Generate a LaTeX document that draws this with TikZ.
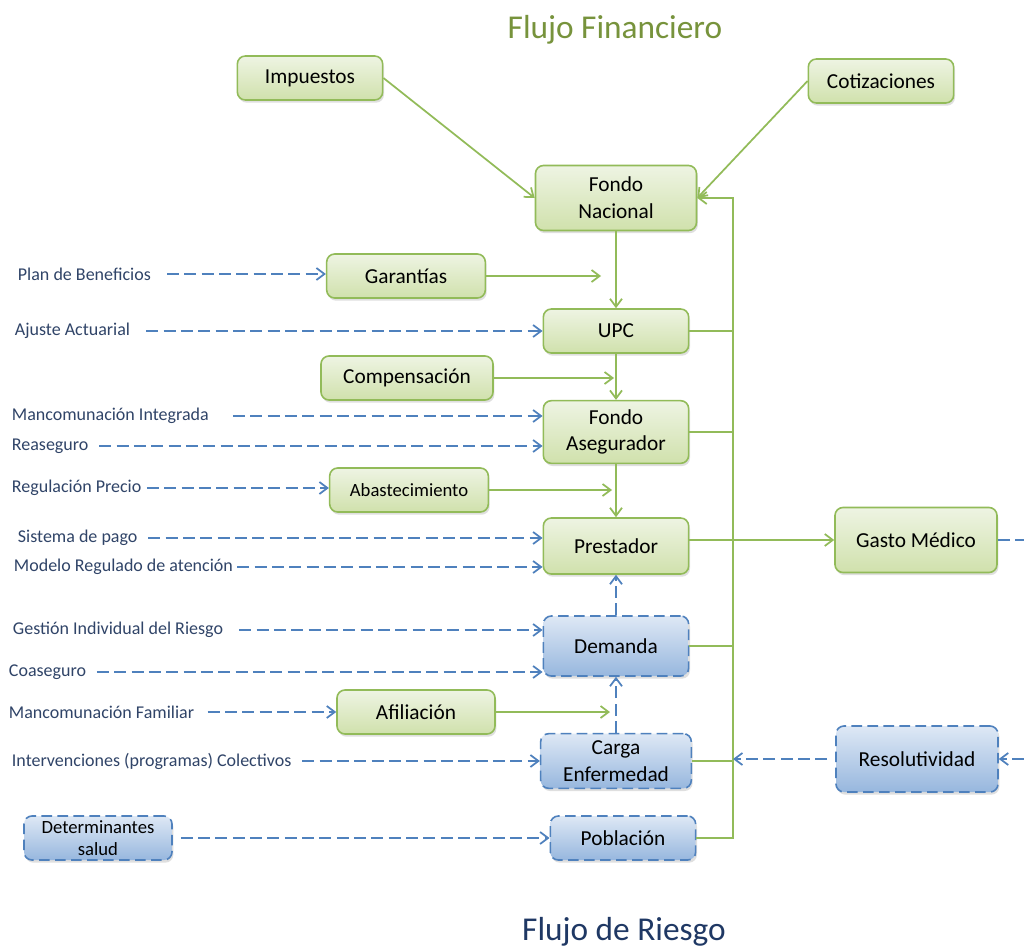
\documentclass[tikz,border=0pt]{standalone}
\usepackage{fontspec}
\setmainfont{Carlito}
\usetikzlibrary{arrows.meta,positioning,shadows}
\definecolor{finGreen}{RGB}{146,187,89}
\definecolor{finTop}{RGB}{238,244,227}
\definecolor{finBottom}{RGB}{208,225,172}
\definecolor{riskBlue}{RGB}{79,129,189}
\definecolor{riskTop}{RGB}{222,232,245}
\definecolor{riskBottom}{RGB}{151,183,222}
\definecolor{labelText}{RGB}{48,68,104}
\definecolor{titleGreen}{RGB}{119,147,60}
\definecolor{titleBlue}{RGB}{31,56,100}

\begin{document}
\begin{tikzpicture}[x=0.75pt,y=-0.75pt]
  \tikzset {
    box/.style={
      rectangle,
      rounded corners=6pt,
      draw=finGreen,
      line width=1.2pt,
      top color=finTop,
      bottom color=finBottom,
      minimum width=109pt,
      minimum height=33pt,
      align=center,
      font=\fontsize{16}{20}\selectfont,
      drop shadow={opacity=0.25, shadow xshift=1pt, shadow yshift=-2pt}
    },
    riskbox/.style={
      box,
      draw=riskBlue,
      dash pattern=on 8pt off 4pt,
      top color=riskTop,
      bottom color=riskBottom
    },
    lbl/.style={anchor=west, text=labelText, font=\fontsize{13.5}{16}\selectfont, inner sep=2pt},
    title/.style={font=\fontsize{25}{30}\selectfont},
    link/.style={draw=finGreen, line width=1.3pt},
    flow/.style={link, -{Straight Barb[length=6pt,width=9pt]}},
    riskline/.style={draw=riskBlue, line width=1.3pt, dash pattern=on 9pt off 4pt},
    risk/.style={riskline, shorten <=6pt, -{Straight Barb[length=6pt,width=9pt]}}
  }
  \useasboundingbox[fill=white] (0,0) rectangle (1024,949);

  % titles
  \node[title, text=titleGreen] (flujoFin) at (615,30) {Flujo Financiero};
  \node[title, text=titleBlue] (flujoRiesgo) at (624,932) {Flujo de Riesgo};

  % main column
  \node[box, minimum width=120.75pt, minimum height=48.75pt](fondoNac) at (616,198) {Fondo\\Nacional};
  \node[box, below of=fondoNac, node distance=99.75pt](upc) {UPC};
  \node[box, minimum height=47pt, below of=upc, node distance=75.75pt](fondoAseg) {Fondo\\Asegurador};
  \node[box, minimum height=42pt, below of=fondoAseg, node distance=85.5pt](prestador) {Prestador};
  \node[riskbox, minimum height=45pt, below of=prestador, node distance=75pt](demanda) {Demanda};
  \node[riskbox, minimum width=113pt, minimum height=41pt, below of=demanda, node distance=86.25pt](carga) {Carga\\Enfermedad};
  \node[riskbox, below of=carga, node distance=57.75pt, xshift=5.25pt](poblacion) {Población};

  % right column
  \node[box, minimum width=121.5pt, minimum height=48.75pt, right of=prestador, node distance=225pt, yshift=4.5pt](gasto) {Gasto Médico};
  \node[riskbox, minimum width=121.5pt, minimum height=49.5pt, right of=carga, node distance=225.75pt, yshift=1.5pt](resol) {Resolutividad};

  % sources and side boxes
  \node[box](impuestos) at (310,78) {Impuestos};
  \node[box](cotizaciones) at (881,81) {Cotizaciones};
  \node[box, minimum width=119pt](garantias) at (406,276) {Garantías};
  \node[box, minimum width=129pt](compensacion) at (407,378) {Compensación};
  \node[box, minimum width=119pt, font=\fontsize{14}{17}\selectfont](abastecimiento) at (409,490) {Abastecimiento};
  \node[box, minimum width=118.5pt](afiliacion) at (416,712) {Afiliación};
  \node[riskbox, minimum width=111pt, inner sep=0.5pt, font=\fontsize{14}{16.5}\selectfont](determinantes) at (98,838) {Determinantes\\salud};

  % labels
  \node[lbl](planBen) at (15,274) {Plan de Beneficios};
  \node[lbl](ajuste) at (12,331) {Ajuste Actuarial};
  \node[lbl](mancInt) at (9,416) {Mancomunación Integrada};
  \node[lbl](reaseguro) at (9,446) {Reaseguro};
  \node[lbl](regPrecio) at (9,488) {Regulación Precio};
  \node[lbl](sistPago) at (15,538) {Sistema de pago};
  \node[lbl](modelo) at (11,567) {Modelo Regulado de atención};
  \node[lbl](gestion) at (10,630) {Gestión Individual del Riesgo};
  \node[lbl](coaseguro) at (6,672) {Coaseguro};
  \node[lbl](mancFam) at (6,712) {Mancomunación Familiar};
  \node[lbl](interv) at (9,761) {Intervenciones (programas) Colectivos};

  % free ends
  \coordinate (busTop) at (733,198);
  \coordinate (busBot) at (733,838);
  \coordinate (garantiasEnd) at (601,273);
  \coordinate (compEnd) at (614,377);
  \coordinate (abastEnd) at (612,488);
  \coordinate (afilEnd) at (610,708);
  \coordinate (rightEdge) at (1024,540);

  % financial flow
  \path (impuestos.east) edge[flow] (fondoNac.west);
  \path (cotizaciones.west) edge[flow] (fondoNac.east);
  \path (fondoNac.south) edge[flow] (upc.north);
  \path (upc.south) edge[flow] (fondoAseg.north);
  \path (fondoAseg.south) edge[flow] (prestador.north);
  \path (garantias.east) edge[flow] (garantias.east -| garantiasEnd);
  \path (compensacion.east) edge[flow] (compensacion.east -| compEnd);
  \path (abastecimiento.east) edge[flow] (abastecimiento.east -| abastEnd);
  \path (afiliacion.east) edge[flow] (afiliacion.east -| afilEnd);
  \draw[flow] (poblacion.east) -- (busBot) -- (busTop) -- (fondoNac.east);
  \path (upc.east) edge[link] (upc.east -| busTop);
  \path (fondoAseg.east) edge[link] (fondoAseg.east -| busTop);
  \path (demanda.east) edge[link] (demanda.east -| busTop);
  \path (carga.east) edge[link] (carga.east -| busTop);
  \path (prestador.east |- gasto.west) edge[flow] (gasto.west);

  % risk flow
  \path (planBen.east) edge[risk, shorten <=10pt] (planBen.east -| garantias.west);
  \path (ajuste.east) edge[risk, shorten <=10pt] (ajuste.east -| upc.west);
  \path (mancInt.east) edge[risk, shorten <=16pt] (mancInt.east -| fondoAseg.west);
  \path (reaseguro.east) edge[risk] (reaseguro.east -| fondoAseg.west);
  \path (regPrecio.east) edge[risk, shorten <=2pt] (regPrecio.east -| abastecimiento.west);
  \path (sistPago.east) edge[risk] (sistPago.east -| prestador.west);
  \path (modelo.east) edge[risk, shorten <=1pt] (modelo.east -| prestador.west);
  \path (gestion.east) edge[risk, shorten <=10pt] (gestion.east -| demanda.west);
  \path (coaseguro.east) edge[risk] (coaseguro.east -| demanda.west);
  \path (mancFam.east) edge[risk, shorten <=8pt] (mancFam.east -| afiliacion.west);
  \path (interv.east) edge[risk] (interv.east -| carga.west);
  \path (determinantes.east) edge[risk] (poblacion.west);
  \path (carga.north) edge[risk, shorten <=0pt] (demanda.south);
  \path (demanda.north) edge[risk, shorten <=0pt] (prestador.south);
  \path (resol.west) edge[risk] (resol.west -| busTop);
  \path (gasto.east) edge[riskline] (gasto.east -| rightEdge);
  \path (resol.east -| rightEdge) edge[risk, shorten <=0pt] (resol.east);

\end{tikzpicture}
\end{document}
